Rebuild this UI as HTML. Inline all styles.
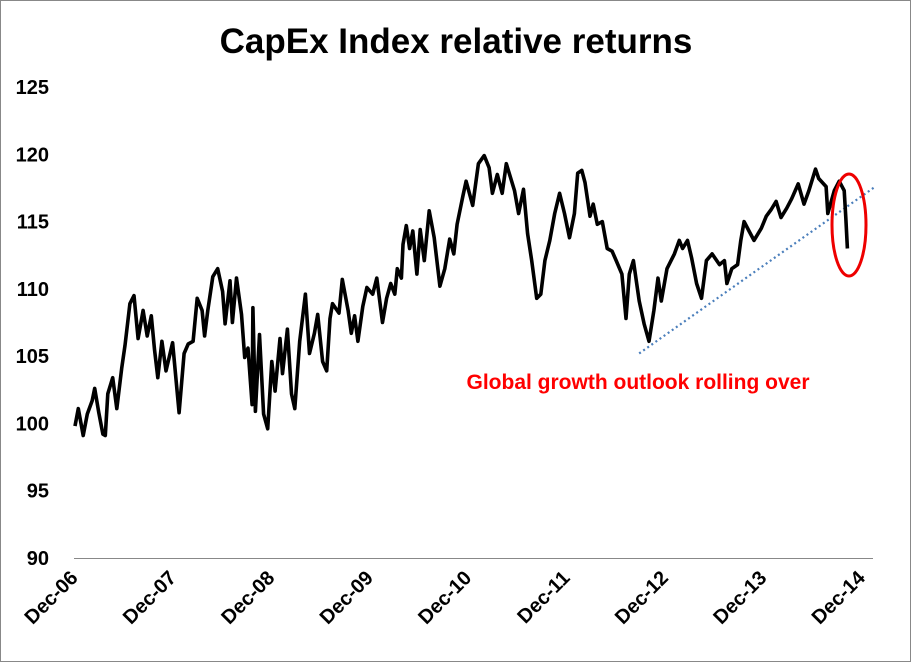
<!DOCTYPE html>
<html><head><meta charset="utf-8"><style>
body{margin:0;background:#fff}
#wrap{position:relative;width:909px;height:660px;border:1px solid #888;overflow:hidden;font-family:"Liberation Sans",sans-serif}
svg text{font-family:"Liberation Sans",sans-serif}
</style></head><body>
<div id="wrap">
<svg id="chart" width="909" height="660"></svg>
</div>
<script>
const months = [0,0.4,1.0,1.5,2.1,2.4,2.9,3.4,3.7,4.0,4.6,5.1,5.7,6.1,6.7,7.2,7.7,8.3,8.8,9.3,9.7,10.1,10.6,11.1,11.9,12.7,13.3,13.8,14.4,14.9,15.5,15.8,16.2,16.8,17.4,18.0,18.3,18.9,19.2,19.7,20.3,20.7,21.1,21.6,21.7,22.0,22.5,23.0,23.5,24.0,24.4,25.0,25.3,25.9,26.4,26.8,27.4,28.1,28.6,29.2,29.6,30.2,30.7,31.1,31.4,32.2,32.6,33.3,33.7,34.1,34.5,35.1,35.6,36.3,36.8,37.5,38.0,38.5,39.0,39.3,39.8,40.0,40.4,40.8,41.2,41.7,42.1,42.6,43.2,43.8,44.5,45.1,45.7,46.2,46.6,47.3,47.7,48.5,49.2,49.9,50.5,50.9,51.5,52.1,52.6,53.0,53.6,54.1,54.7,55.2,55.7,56.3,56.8,57.3,57.9,58.5,59.1,59.7,60.3,60.9,61.3,61.8,62.2,62.8,63.2,63.7,64.3,64.9,65.5,66.0,66.7,67.2,67.6,68.1,68.8,69.4,70.0,70.6,71.1,71.5,72.2,73.1,73.7,74.1,74.7,75.2,75.8,76.4,77.0,77.7,78.6,79.2,79.5,80.1,80.8,81.2,81.6,82.2,82.8,83.7,84.3,84.9,85.5,86.1,86.8,87.4,88.2,88.9,89.5,90.3,90.7,91.6,91.8,92.6,93.2,93.8,94.0,94.2];
const values = [99.8,101.1,99.1,100.7,101.7,102.6,100.8,99.2,99.1,102.2,103.4,101.1,104.1,105.8,108.9,109.5,106.3,108.4,106.5,108.0,105.5,103.4,106.1,103.9,106.0,100.8,105.2,105.9,106.1,109.3,108.4,106.5,108.4,110.9,111.5,109.8,107.4,110.6,107.5,110.8,108.1,104.9,105.6,101.4,108.6,100.9,106.6,100.7,99.6,104.6,102.4,106.3,103.7,107.0,102.2,101.1,106.1,109.6,105.2,106.7,108.1,104.6,103.9,107.8,108.9,108.2,110.7,108.4,106.7,108.0,106.1,108.7,110.1,109.6,110.8,107.5,109.3,110.4,109.6,111.5,110.8,113.3,114.7,113.0,114.3,111.1,114.4,112.1,115.8,113.8,110.2,111.5,113.7,112.6,114.8,116.9,118.0,116.2,119.3,119.9,119.0,117.1,118.5,117.1,119.3,118.5,117.3,115.6,117.4,114.1,112.1,109.3,109.6,112.1,113.6,115.6,117.1,115.6,113.8,115.6,118.6,118.8,117.9,115.4,116.3,114.8,115.0,113.0,112.8,112.1,111.1,107.8,111.1,112.1,109.1,107.4,106.1,108.4,110.8,109.1,111.5,112.6,113.6,113.0,113.6,112.3,110.4,109.3,112.1,112.6,111.8,112.1,110.4,111.5,111.8,113.6,115.0,114.3,113.6,114.5,115.4,115.9,116.5,115.3,116.0,116.7,117.8,116.3,117.3,118.9,118.2,117.6,115.6,117.3,118.0,117.3,115.3,113.0];
const yTicks = [90,95,100,105,110,115,120,125];
const xLabels = ["Dec-06","Dec-07","Dec-08","Dec-09","Dec-10","Dec-11","Dec-12","Dec-13","Dec-14"];
const trend = {m0:68.8, v0:105.2, m1:97.6, v1:117.6};

const NS="http://www.w3.org/2000/svg";
const svg=document.getElementById('chart');
const X0=74, PXM=98.4/12, Y0=557, PXV=(557-86)/35;
const xs=m=>X0+m*PXM, ys=v=>Y0-(v-90)*PXV;
function mk(t,a){const e=document.createElementNS(NS,t);for(const k in a)e.setAttribute(k,a[k]);svg.appendChild(e);return e;}

const title=mk('text',{x:455,y:52,'text-anchor':'middle','font-size':35,'font-weight':'bold',fill:'#000'});
title.textContent='CapEx Index relative returns';



yTicks.forEach(v=>{
  const t=mk('text',{x:48,y:ys(v)+7,'text-anchor':'end','font-size':20,'font-weight':'bold',fill:'#000'});
  t.textContent=v;
  
  
});
const ax=mk('line',{x1:73,x2:872,y1:Y0+0.5,y2:Y0+0.5,stroke:'#888','stroke-width':1});



xLabels.forEach((l,i)=>{
  const x=xs(i*12)+4, y=578;
  const t=mk('text',{x:x,y:y,'text-anchor':'end','font-size':20,'font-weight':'bold',fill:'#000',transform:`rotate(-45 ${x} ${y})`});
  t.textContent=l;
  
  
});

const tl=mk('line',{x1:xs(trend.m0),y1:ys(trend.v0),x2:xs(trend.m1),y2:ys(trend.v1),stroke:'#4a7ebb','stroke-width':2.2,'stroke-dasharray':'2 3'});



const d=months.map((m,i)=>(i?'L':'M')+xs(m).toFixed(1)+','+ys(values[i]).toFixed(1)).join(' ');
const p=mk('path',{d:d,fill:'none',stroke:'#000','stroke-width':3.6,'stroke-linejoin':'round'});



const el=mk('ellipse',{cx:848,cy:224,rx:17,ry:51,fill:'none',stroke:'#e00','stroke-width':3});



const an=mk('text',{x:637,y:388,'text-anchor':'middle','font-size':21,'font-weight':'bold',fill:'#f00'});
an.textContent='Global growth outlook rolling over';


</script>
</body></html>
